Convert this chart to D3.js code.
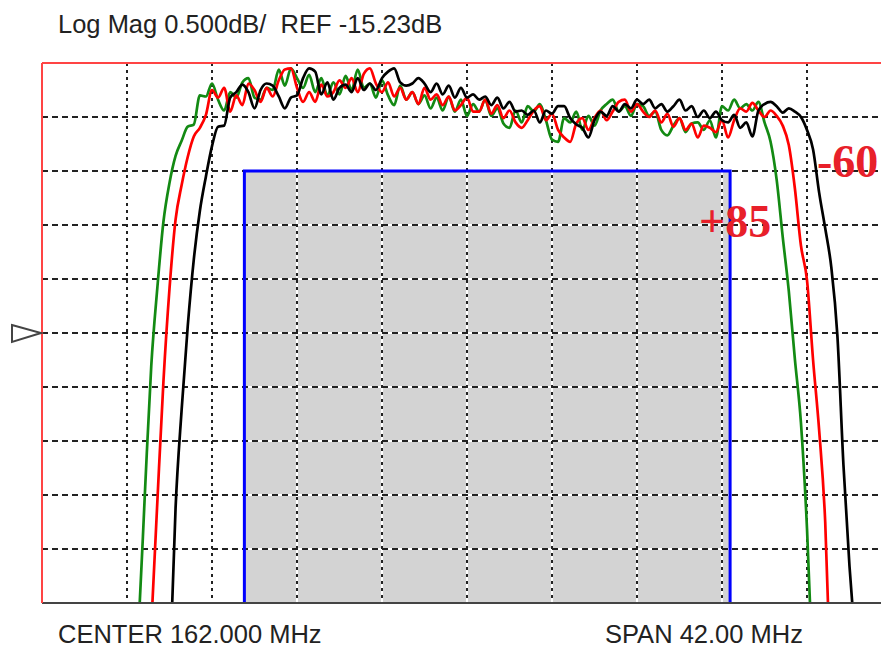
<!DOCTYPE html>
<html lang="en">
<head>
<meta charset="utf-8">
<title>filter sweep</title>
<script src="https://cdn.jsdelivr.net/npm/d3@7"></script>
<style type="text/css">
	body { margin:0; background:#fff; }
	svg { display:block; }
</style>
</head>
<body>
<script type="text/javascript">

// analyzer settings
var centerMHz = 162.0, spanMHz = 42.0
var refLevel = -15.23, dbPerDiv = 0.5, divisions = 10
var sweepStep = 0.3

// traces: first sweep frequency (MHz), then magnitude in dB per sweep step
var greenStart = 145.5
var greenDb = [-18.60,-17.84,-16.65,-15.53,-14.81,-14.20,-13.84,-13.59,-13.45,-13.32,
	-13.30,-13.03,-13.04,-12.92,-13.07,-13.17,-13.00,-13.05,-12.91,-12.87,
	-13.05,-13.07,-12.96,-12.98,-12.79,-12.94,-12.78,-12.87,-12.96,-12.84,
	-13.00,-12.87,-13.03,-12.91,-13.02,-12.85,-12.98,-12.79,-12.96,-12.92,
	-13.05,-12.89,-13.03,-13.12,-12.94,-13.07,-13.00,-13.11,-13.03,-13.15,
	-13.05,-13.17,-13.04,-13.18,-13.07,-13.22,-13.11,-13.18,-13.07,-13.22,
	-13.15,-13.29,-13.33,-13.17,-13.28,-13.13,-13.18,-13.11,-13.26,-13.44,
	-13.46,-13.24,-13.28,-13.18,-13.35,-13.22,-13.31,-13.17,-13.11,-13.07,
	-13.18,-13.13,-13.22,-13.11,-13.13,-13.22,-13.18,-13.35,-13.40,-13.31,
	-13.24,-13.37,-13.29,-13.28,-13.35,-13.26,-13.42,-13.13,-13.17,-13.07,
	-13.15,-13.11,-13.17,-13.09,-13.28,-13.46,-13.81,-14.34,-14.84,-15.47,
	-16.06,-17.04,-18.44]

var redStart = 146.4
var redDb = [-17.94,-16.79,-15.68,-14.82,-14.18,-13.86,-13.60,-13.41,-13.33,-13.21,
	-12.98,-13.05,-12.96,-13.18,-13.03,-13.12,-12.92,-12.98,-13.09,-12.96,
	-13.04,-12.89,-12.79,-12.78,-12.96,-13.09,-13.00,-13.09,-12.93,-13.04,
	-13.00,-12.89,-12.96,-12.87,-13.00,-12.83,-12.78,-12.92,-13.00,-12.91,
	-13.04,-12.96,-13.07,-13.00,-13.11,-12.96,-13.07,-13.02,-13.12,-13.04,
	-13.17,-13.12,-13.05,-13.18,-13.18,-13.07,-13.20,-13.12,-13.24,-13.17,
	-13.28,-13.33,-13.26,-13.17,-13.13,-13.26,-13.20,-13.35,-13.42,-13.46,
	-13.29,-13.24,-13.35,-13.24,-13.17,-13.26,-13.18,-13.09,-13.07,-13.18,
	-13.11,-13.18,-13.23,-13.17,-13.28,-13.20,-13.32,-13.24,-13.35,-13.29,
	-13.42,-13.31,-13.33,-13.37,-13.26,-13.42,-13.26,-13.15,-13.18,-13.10,
	-13.17,-13.23,-13.17,-13.22,-13.31,-13.49,-13.89,-14.42,-14.74,-15.48,
	-16.13,-16.98,-18.63]

var blackStart = 147.3
var blackDb = [-18.44,-16.85,-15.94,-15.17,-14.55,-14.10,-13.78,-13.50,-13.32,-13.31,
	-13.05,-13.00,-12.93,-13.00,-13.15,-12.98,-12.92,-12.94,-13.04,-13.15,
	-13.05,-13.03,-12.87,-12.78,-12.81,-13.02,-12.91,-13.07,-12.96,-12.93,
	-13.00,-12.87,-12.98,-12.92,-12.98,-12.87,-12.81,-12.78,-12.91,-12.94,
	-12.92,-12.87,-12.92,-13.00,-12.92,-13.02,-12.94,-13.05,-12.96,-13.05,
	-13.02,-13.07,-13.04,-13.12,-13.05,-13.15,-13.09,-13.18,-13.17,-13.21,
	-13.17,-13.28,-13.17,-13.20,-13.13,-13.13,-13.24,-13.30,-13.33,-13.42,
	-13.26,-13.18,-13.22,-13.13,-13.18,-13.11,-13.15,-13.07,-13.11,-13.07,
	-13.15,-13.11,-13.18,-13.13,-13.07,-13.17,-13.13,-13.23,-13.17,-13.24,
	-13.18,-13.26,-13.28,-13.21,-13.33,-13.28,-13.41,-13.17,-13.11,-13.09,
	-13.13,-13.19,-13.15,-13.18,-13.23,-13.35,-13.53,-13.93,-14.26,-14.62,
	-15.25,-16.45,-17.39,-18.14]

// spec mask (grey box)
var maskFreq = [151.0, 175.0]
var maskTop = -13.73

// temperature labels
var tempLabels = ["+85", "-60"]
var tempFreq = [173.46, 179.29]
var tempDb = [-14.34, -13.79]

var width = 881, height = 648
var plotLeft = 42, plotTop = 63, plotW = 850, plotH = 540

var canvas = d3.select("body").append("svg").attr("width", width).attr("height", height)

var x = d3.scaleLinear()
	.domain([centerMHz - spanMHz/2, centerMHz + spanMHz/2])
	.range([plotLeft, plotLeft + plotW])
var y = d3.scaleLinear()
	.domain([refLevel - dbPerDiv*divisions/2, refLevel + dbPerDiv*divisions/2])
	.range([plotTop + plotH, plotTop])

var fmin = x.domain()[0], dmin = y.domain()[0]

canvas.append("clipPath").attr("id", "plotclip")
	.append("rect").attr("x", plotLeft).attr("y", plotTop).attr("width", plotW).attr("height", plotH)

//////////////////////////////// mask fill ////////////////////////////////
canvas.append("rect")
	.attr("x", x(maskFreq[0]))
	.attr("y", y(maskTop))
	.attr("width", x(maskFreq[1]) - x(maskFreq[0]))
	.attr("height", y(dmin) - y(maskTop))
	.attr("fill", "#d3d3d3")

//////////////////////////////// grid ////////////////////////////////
var divs = d3.range(1, divisions)
var grid = canvas.append("g")

// white under-line so the gaps show white over the grey box
divs.forEach(function(i) {
	var fx = x(fmin + i*spanMHz/divisions)
	var dy = y(dmin + i*dbPerDiv)
	grid.append("line").attr("x1", plotLeft).attr("x2", plotLeft + plotW).attr("y1", dy).attr("y2", dy)
		.attr("stroke", "white").attr("stroke-width", 2)
	grid.append("line").attr("x1", fx).attr("x2", fx).attr("y1", plotTop).attr("y2", plotTop + plotH)
		.attr("stroke", "white").attr("stroke-width", 2)
})
divs.forEach(function(i) {
	var fx = x(fmin + i*spanMHz/divisions)
	var dy = y(dmin + i*dbPerDiv)
	grid.append("line").attr("x1", plotLeft).attr("x2", plotLeft + plotW).attr("y1", dy).attr("y2", dy)
		.attr("stroke", "#222").attr("stroke-width", 2).attr("stroke-dasharray", "6,4")
	grid.append("line").attr("x1", fx).attr("x2", fx).attr("y1", plotTop).attr("y2", plotTop + plotH)
		.attr("stroke", "#222").attr("stroke-width", 2).attr("stroke-dasharray", "3,4")
})

//////////////////////////////// mask outline ////////////////////////////////
canvas.append("path")
	.attr("d", "M" + x(maskFreq[0]) + "," + y(dmin) + "V" + y(maskTop) + "H" + x(maskFreq[1]) + "V" + y(dmin))
	.attr("fill", "none")
	.attr("stroke", "#0000ff")
	.attr("stroke-width", 3)

//////////////////////////////// traces ////////////////////////////////
function sweep(start, vals) {
	return vals.map(function(d, i) { return [start + i*sweepStep, d] })
}
var line = d3.line()
	.x(function(d) { return x(d[0]) })
	.y(function(d) { return y(d[1]) })
	.curve(d3.curveMonotoneX)

var traces = [[greenStart, greenDb, "#138a13"], [redStart, redDb, "#ff0000"], [blackStart, blackDb, "#000000"]]
var tg = canvas.append("g").attr("clip-path", "url(#plotclip)")
traces.forEach(function(t) {
	tg.append("path")
		.attr("d", line(sweep(t[0], t[1])))
		.attr("fill", "none")
		.attr("stroke", t[2])
		.attr("stroke-width", 2.7)
		.attr("stroke-linejoin", "round")
})

//////////////////////////////// frame ////////////////////////////////
canvas.append("line").attr("x1", plotLeft).attr("x2", plotLeft + plotW).attr("y1", plotTop + plotH).attr("y2", plotTop + plotH)
	.attr("stroke", "#444").attr("stroke-width", 2)
canvas.append("line").attr("x1", plotLeft).attr("x2", plotLeft + plotW).attr("y1", plotTop).attr("y2", plotTop)
	.attr("stroke", "#ff4444").attr("stroke-width", 2)
canvas.append("line").attr("x1", plotLeft).attr("x2", plotLeft).attr("y1", plotTop).attr("y2", plotTop + plotH)
	.attr("stroke", "#ff4444").attr("stroke-width", 2)

// reference level marker
var ry = y(refLevel)
canvas.append("path")
	.attr("d", "M12," + (ry - 8) + "L" + (plotLeft - 1) + "," + ry + "L12," + (ry + 9) + "Z")
	.attr("fill", "white")
	.attr("stroke", "#444")
	.attr("stroke-width", 2)

//////////////////////////////// texts ////////////////////////////////
canvas.append("text")
	.attr("x", 58).attr("y", 33)
	.style("white-space", "pre")
	.attr("font-family", "Liberation Sans, Arial, sans-serif")
	.attr("font-size", 25.5)
	.attr("fill", "#222")
	.text("Log Mag " + dbPerDiv.toFixed(3) + "dB/  REF " + refLevel.toFixed(2) + "dB")

canvas.append("text")
	.attr("x", 58).attr("y", 643)
	.attr("font-family", "Liberation Sans, Arial, sans-serif")
	.attr("font-size", 25.5)
	.attr("fill", "#222")
	.text("CENTER " + centerMHz.toFixed(3) + " MHz")

canvas.append("text")
	.attr("x", 605).attr("y", 643)
	.attr("font-family", "Liberation Sans, Arial, sans-serif")
	.attr("font-size", 25.5)
	.attr("fill", "#222")
	.text("SPAN " + spanMHz.toFixed(2) + " MHz")

tempLabels.forEach(function(t, i) {
	canvas.append("text")
		.attr("x", x(tempFreq[i]))
		.attr("y", y(tempDb[i]))
		.attr("font-family", "Liberation Serif, Times New Roman, serif")
		.attr("font-weight", "bold")
		.attr("font-size", 46)
		.attr("fill", "#e8202a")
		.text(t)
})

</script>
</body>
</html>
